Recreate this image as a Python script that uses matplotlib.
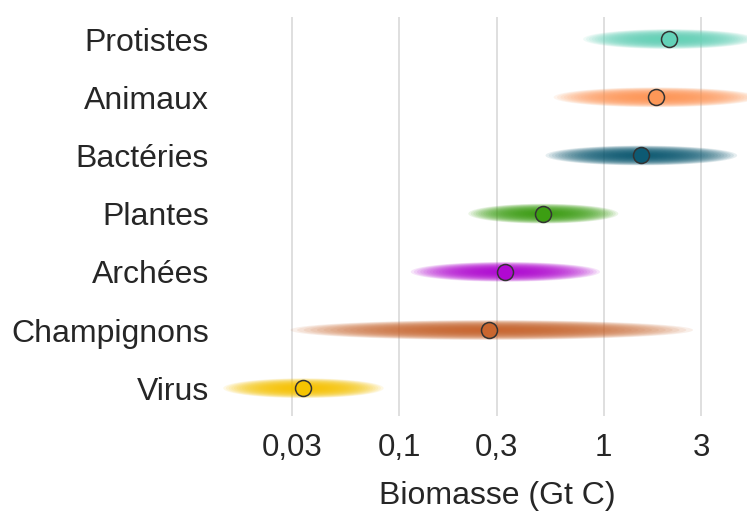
import numpy as np
import matplotlib
matplotlib.use("Agg")
import matplotlib.pyplot as plt

plt.rcParams['font.family'] = ['Liberation Sans', 'DejaVu Sans']

# data, bottom to top
groupes = ["Virus", "Champignons", "Archées", "Plantes", "Bactéries", "Animaux", "Protistes"]
biomasse = [0.034, 0.275, 0.33, 0.505, 1.53, 1.80, 2.09]
bas = [0.0138, 0.0294, 0.114, 0.218, 0.52, 0.57, 0.795]
haut = [0.084, 2.74, 0.96, 1.18, 4.5, 5.7, 5.5]
couleurs = ["#f6c400", "#c9662f", "#b108d2", "#3c9e12", "#0d5a73", "#fd9757", "#63d2b8"]

ticks = [0.03, 0.1, 0.3, 1, 3]
tick_labels = ["0,03", "0,1", "0,3", "1", "3"]

fig = plt.figure(figsize=(7.47, 5.15), dpi=100)
ax = fig.add_axes([0.2945, 0.192, 0.7055, 0.775])
ax.set_xscale("log")

# soft bands: stacked translucent ellipses in log space
t = np.linspace(0, 2 * np.pi, 200)
n_layers = 30
for i, g in enumerate(groupes):
    c = np.log10(biomasse[i])
    wl = c - np.log10(bas[i])
    wr = np.log10(haut[i]) - c
    for k in range(n_layers, 0, -1):
        f = k / n_layers
        w = np.where(np.cos(t) >= 0, wr, wl) * f
        xs = 10 ** (c + w * np.cos(t))
        ys = i + 0.17 * f * np.sin(t)
        ax.fill(xs, ys, color=couleurs[i], alpha=0.1, lw=0, zorder=2)
    ax.plot(biomasse[i], i, "o", ms=11.5, mfc=couleurs[i], mec="#333333", mew=1.1, zorder=5)

ax.set_xlim(0.0133, 5.03)
ax.set_ylim(-0.48, 6.38)
ax.set_yticks(range(len(groupes)))
ax.set_yticklabels(groupes, fontsize=23, color="#262626")
ax.set_xticks(ticks)
ax.set_xticklabels(tick_labels, fontsize=22.5, color="#262626")
ax.xaxis.set_minor_locator(matplotlib.ticker.NullLocator())
ax.tick_params(axis="both", length=0)
ax.tick_params(axis="x", pad=12)
ax.tick_params(axis="y", pad=8)
ax.grid(axis="x", color="#dcdcdc", lw=1.3)
ax.set_axisbelow(True)
for s in ax.spines.values():
    s.set_visible(False)
ax.set_xlabel("Biomasse (Gt C)", fontsize=23, color="#262626", labelpad=13)
ax.xaxis.label.set_x(0.526)

fig.savefig("out.png", dpi=100, facecolor="white")
